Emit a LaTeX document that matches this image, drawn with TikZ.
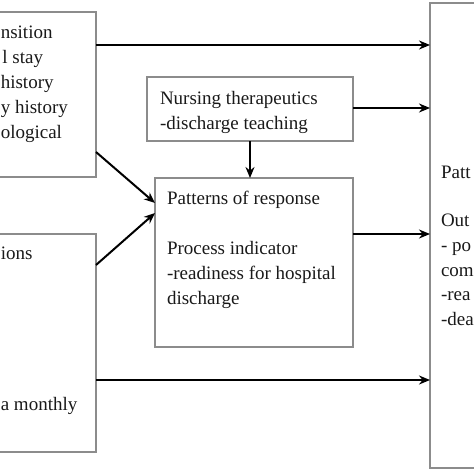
\documentclass[tikz,border=0pt]{standalone}
\usepackage{fontspec}
\setmainfont{Liberation Serif}
\usetikzlibrary{arrows.meta}
\begin{document}
\begin{tikzpicture}[x=1pt,y=-1pt,
  box/.style={draw=black!45, line width=1.3pt, fill=none, inner sep=0pt, outer sep=0pt, anchor=north west},
  txt/.style={inner sep=0pt, outer sep=0pt, font=\fontsize{19}{25}\selectfont, text=black!90},
  arr/.style={draw=black, line width=2pt, -{Stealth[length=11pt,width=9pt]}}]
\useasboundingbox (0,0) rectangle (474,474);
% boxes
\node[box, minimum width=156pt, minimum height=165pt] (tl) at (-60,12) {};
\node[box, minimum width=156pt, minimum height=218pt] (bl) at (-60,234) {};
\node[box, minimum width=206pt, minimum height=64pt] (nt) at (147,77) {};
\node[box, minimum width=198pt, minimum height=169pt] (pr) at (155,178) {};
\node[box, minimum width=100pt, minimum height=465pt] (rb) at (430,3) {};
% left top texts
\node[txt, anchor=base west] (t1) at (0.8,38) {nsition};
\node[txt, anchor=base west] (t2) at (2.4,63) {l stay};
\node[txt, anchor=base west] (t3) at (0.8,88) {history};
\node[txt, anchor=base west] (t4) at (0.8,113) {y history};
\node[txt, anchor=base west] (t5) at (0.8,138) {ological};
% left bottom texts
\node[txt, anchor=base west] (b1) at (0.8,259) {ions};
\node[txt, anchor=base west] (b2) at (0.8,410) {a monthly};
% nursing
\node[txt, anchor=base west] (n1) at (160,104) {Nursing therapeutics};
\node[txt, anchor=base west] (n2) at (160,129) {-discharge teaching};
% patterns
\node[txt, anchor=base west] (p1) at (167,204) {Patterns of response};
\node[txt, anchor=base west] (p2) at (167,254) {Process indicator};
\node[txt, anchor=base west] (p3) at (167,279) {-readiness for hospital};
\node[txt, anchor=base west] (p4) at (167,304) {discharge};
% right texts
\node[txt, anchor=base west] (r1) at (441,178) {Patt};
\node[txt, anchor=base west] (r2) at (441,226) {Out};
\node[txt, anchor=base west] (r3) at (441,251) {- po};
\node[txt, anchor=base west] (r4) at (441,276) {com};
\node[txt, anchor=base west] (r5) at (441,300) {-rea};
\node[txt, anchor=base west] (r6) at (441,325) {-dea};
% arrows
\coordinate (ya) at (0,45);
\coordinate (yb) at (0,108);
\coordinate (yc) at (0,234);
\coordinate (yd) at (0,380);
\draw[arr] (tl.east |- ya) -- (rb.west |- ya);
\draw[arr] (nt.east |- yb) -- (rb.west |- yb);
\draw[arr] (pr.east |- yc) -- (rb.west |- yc);
\draw[arr] (bl.east |- yd) -- (rb.west |- yd);
\draw[arr] (nt.south) -- (pr.north -| nt.south);
\coordinate (d1) at (0,152);
\coordinate (d2) at (0,203);
\coordinate (d3) at (0,265);
\coordinate (d4) at (0,213);
\draw[arr] (tl.east |- d1) -- (pr.west |- d2);
\draw[arr] (bl.east |- d3) -- (pr.west |- d4);
\end{tikzpicture}
\end{document}
